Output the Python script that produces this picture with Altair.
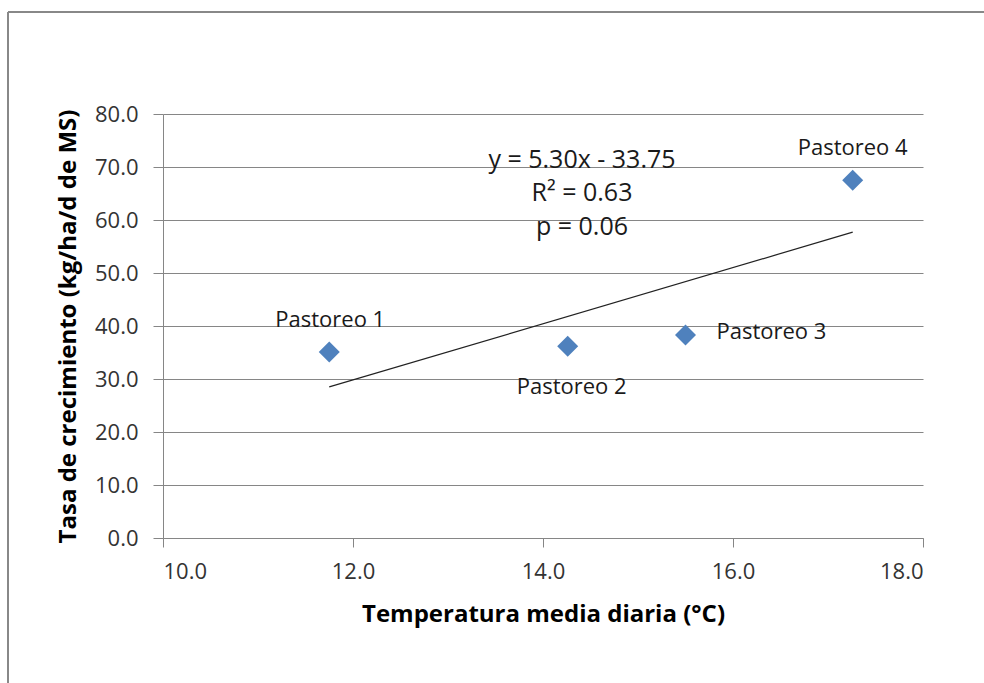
import altair as alt
import pandas as pd

# Data
names = ["Pastoreo 1", "Pastoreo 2", "Pastoreo 3", "Pastoreo 4"]
temp = [11.75, 14.26, 15.50, 17.26]
growth = [35.1, 36.2, 38.3, 67.5]

trend_x = [11.75, 17.26]
trend_y = [28.5, 57.7]

eq_lines = ["y = 5.30x - 33.75", "R² = 0.63", "p = 0.06"]

# label offsets (style)
label_dx = [1, 4, 31, 0]
label_dy = [-32, 41, -3, -32]
label_align = ["center", "center", "left", "center"]

FONT = "Open Sans"
W, H = 760, 424
PAD_L, PAD_T = 163, 114

df = pd.DataFrame({"name": names, "temp": temp, "growth": growth})
tdf = pd.DataFrame({"temp": trend_x, "growth": trend_y})

xscale = alt.Scale(domain=[10, 18], nice=False)
yscale = alt.Scale(domain=[0, 80], nice=False)

xax = alt.Axis(values=[10, 12, 14, 16, 18], format=".1f", grid=False,
               title="Temperatura media diaria (°C)", tickSize=9,
               labelPadding=14, titlePadding=20)
yax = alt.Axis(values=list(range(0, 81, 10)), format=".1f", grid=True,
               title="Tasa de crecimiento (kg/ha/d de MS)", tickSize=10,
               labelPadding=15, titlePadding=14)

base = alt.Chart(df)

points = base.mark_point(shape="diamond", filled=True, size=440,
                         color="#4F81BD", opacity=1).encode(
    x=alt.X("temp:Q", scale=xscale, axis=xax),
    y=alt.Y("growth:Q", scale=yscale, axis=yax),
)

trend = alt.Chart(tdf).mark_line(color="#222222", strokeWidth=1.2).encode(
    x=alt.X("temp:Q", scale=xscale),
    y=alt.Y("growth:Q", scale=yscale),
)

labels = []
for i, n in enumerate(names):
    labels.append(
        base.transform_filter(alt.datum.name == n).mark_text(
            font=FONT, fontSize=22, color="#1a1a1a", align=label_align[i],
            baseline="middle", dx=label_dx[i], dy=label_dy[i]
        ).encode(
            x=alt.X("temp:Q", scale=xscale),
            y=alt.Y("growth:Q", scale=yscale),
            text="name:N",
        )
    )

eq_y = [46, 79, 113]
eqs = []
one = alt.Data(values=[{"a": 1}])
for t, yy in zip(eq_lines, eq_y):
    eqs.append(
        alt.Chart(one).mark_text(font=FONT, fontSize=25, color="#1a1a1a",
                                 align="center", baseline="middle").encode(
            x=alt.value(419), y=alt.value(yy), text=alt.value(t)
        )
    )

border_v = alt.Chart(one).mark_rule(color="#888888", strokeWidth=2).encode(
    x=alt.value(8 - PAD_L), y=alt.value(12 - PAD_T), y2=alt.value(700 - PAD_T)
)
border_h = alt.Chart(one).mark_rule(color="#888888", strokeWidth=2).encode(
    y=alt.value(12 - PAD_T), x=alt.value(8 - PAD_L), x2=alt.value(1000 - PAD_L)
)

chart = alt.layer(border_v, border_h, trend, points, *labels, *eqs).properties(
    width=W, height=H,
    autosize=alt.AutoSizeParams(type="none"),
    padding={"left": PAD_L, "top": PAD_T, "right": 984 - PAD_L - W, "bottom": 683 - PAD_T - H},
    background="white",
).configure_view(stroke=None).configure_axis(
    labelFont=FONT, labelFontSize=22, labelColor="#333333",
    titleFont=FONT, titleFontSize=24, titleFontWeight="bold", titleColor="#000000",
    domainColor="#868686", tickColor="#868686", gridColor="#868686",
    gridWidth=1, domainWidth=1, tickWidth=1,
)

chart.save("out.html", embed_options={"renderer": "svg", "actions": False})
